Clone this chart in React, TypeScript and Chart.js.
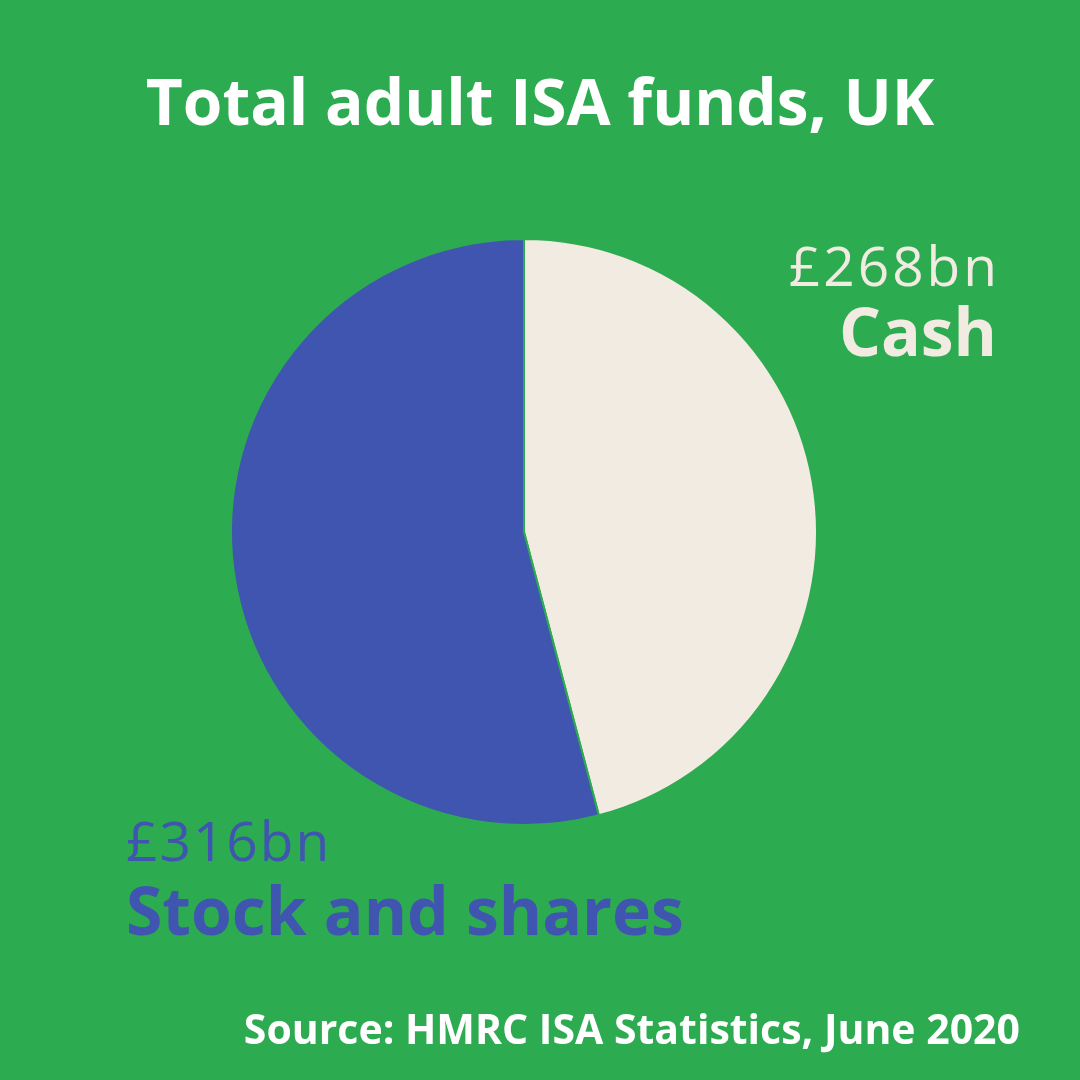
import React, { useEffect, useRef } from "react";
import { Chart, registerables } from "chart.js";

Chart.register(...registerables);

const categories = ["Cash", "Stock and shares"];
const values = [268, 316];
const valueLabels = ["£268bn", "£316bn"];
const colors = ["#f1ebe1", "#3f55b0"];
const BG = "#2dab51";

export default function App() {
  const ref = useRef<HTMLCanvasElement>(null);
  useEffect(() => {
    document.body.style.margin = "0";
    const chart = new Chart(ref.current!, {
      type: "pie",
      data: {
        labels: categories,
        datasets: [
          {
            data: values,
            backgroundColor: colors,
            borderColor: BG,
            borderWidth: 2,
          },
        ],
      },
      options: {
        animation: false,
        responsive: false,
        maintainAspectRatio: false,
        layout: { padding: { left: 228, right: 260, top: 238, bottom: 254 } },
        plugins: { legend: { display: false }, tooltip: { enabled: false }, title: { display: false } },
      },
    });
    return () => chart.destroy();
  }, []);

  const base: React.CSSProperties = { position: "absolute", whiteSpace: "nowrap", lineHeight: 1 };
  return (
    <div style={{ position: "relative", width: 1080, height: 1080, background: BG, overflow: "hidden", fontFamily: "'Open Sans', sans-serif" }}>
      <canvas ref={ref} width={1080} height={1080} style={{ position: "absolute", left: 0, top: 0 }} />
      <div style={{ ...base, left: 0, width: 1080, textAlign: "center", top: 69, fontSize: 64, fontWeight: 700, color: "#ffffff", letterSpacing: 0 }}>
        Total adult ISA funds, UK
      </div>
      <div style={{ ...base, right: 80, top: 237, fontSize: 55, fontWeight: 400, color: colors[0], letterSpacing: 3 }}>{valueLabels[0]}</div>
      <div style={{ ...base, right: 83, top: 297, fontSize: 66, fontWeight: 700, color: colors[0] }}>{categories[0]}</div>
      <div style={{ ...base, left: 126, top: 812, fontSize: 55, fontWeight: 400, color: colors[1], letterSpacing: 2 }}>{valueLabels[1]}</div>
      <div style={{ ...base, left: 126, top: 876, fontSize: 66, fontWeight: 700, color: colors[1] }}>{categories[1]}</div>
      <div style={{ ...base, right: 60, top: 1008, fontSize: 41, fontWeight: 700, color: "#ffffff" }}>
        Source: HMRC ISA Statistics, June 2020
      </div>
    </div>
  );
}
